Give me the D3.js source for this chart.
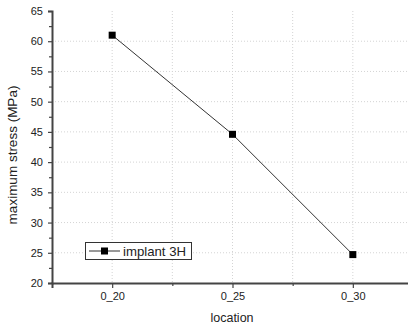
<!DOCTYPE html>
<html>
<head>
<meta charset="utf-8">
<script src="https://cdn.jsdelivr.net/npm/d3@7"></script>
<style>
  body { margin: 0; background: #fff; }
  svg { display: block; font-family: "Liberation Sans", Arial, sans-serif; }
</style>
</head>
<body>
<svg id="canvas" width="408" height="327"></svg>
<script>
// chart data
const locations = ["0_20", "0_25", "0_30"];
const stress = [61.0, 44.6, 24.7];
const yTicks = [20, 25, 30, 35, 40, 45, 50, 55, 60, 65];
const seriesName = "implant 3H";

const svg = d3.select('#canvas');
const plotLeft = 52, plotRight = 413, plotTop = 11, plotBottom = 283;

// x uses index positions so minor ticks can sit between categories
let x = d3.scaleLinear().domain([0.5, 3.5]).range([plotLeft, plotRight]);
let y = d3.scaleLinear().domain([20, 65]).range([plotBottom, plotTop]);

// grid lines, dotted
let grid = svg.append('g').attr('stroke', '#d4d4d4').attr('stroke-dasharray', '1,2');
grid.selectAll('line.h')
    .data(yTicks.filter(d => d > 20 && d < 65))
    .join('line')
    .attr('class', 'h')
    .attr('x1', plotLeft).attr('x2', 408)
    .attr('y1', d => y(d)).attr('y2', d => y(d));
grid.selectAll('line.v')
    .data([1, 1.5, 2, 2.5, 3])
    .join('line')
    .attr('class', 'v')
    .attr('x1', d => x(d)).attr('x2', d => x(d))
    .attr('y1', plotTop).attr('y2', plotBottom);

// y axis
svg.append('g')
    .attr('transform', `translate(${plotLeft},0)`)
    .call(d3.axisLeft(y).tickValues(yTicks).tickSize(4).tickPadding(5));
svg.append('g')
    .attr('transform', `translate(${plotLeft},0)`)
    .call(d3.axisLeft(y).tickValues(d3.range(22.5, 65, 5)).tickSize(3).tickFormat(''))
    .select('.domain').remove();

// x axis
svg.append('g')
    .attr('transform', `translate(0,${plotBottom})`)
    .call(d3.axisBottom(x).tickValues([1, 2, 3]).tickSize(5).tickPadding(4)
          .tickFormat((d, i) => locations[i]));
svg.append('g')
    .attr('transform', `translate(0,${plotBottom})`)
    .call(d3.axisBottom(x).tickValues([1.5, 2.5]).tickSize(3).tickFormat(''))
    .select('.domain').remove();

svg.selectAll('.domain').attr('stroke', '#444').attr('stroke-width', 2);
svg.selectAll('.tick line').attr('stroke', '#444').attr('stroke-width', 1.2);
svg.selectAll('.tick text').attr('font-size', 11).attr('fill', '#222')
    .attr('font-family', '"Liberation Sans", Arial, sans-serif');

// axis titles
svg.append('text')
    .attr('x', 232).attr('y', 322)
    .attr('text-anchor', 'middle').attr('font-size', 12.5).attr('fill', '#222')
    .text('location');
svg.append('text')
    .attr('transform', 'translate(17,155) rotate(-90)')
    .attr('text-anchor', 'middle').attr('font-size', 13.5).attr('fill', '#222')
    .text('maximum stress (MPa)');

// series line + markers
let pts = stress.map((v, i) => [x(i + 1), y(v)]);
svg.append('path')
    .attr('d', d3.line()(pts))
    .attr('fill', 'none').attr('stroke', '#333').attr('stroke-width', 1);
svg.selectAll('rect.pt')
    .data(stress)
    .join('rect')
    .attr('class', 'pt')
    .attr('x', (d, i) => x(i + 1) - 3.5)
    .attr('y', d => y(d) - 3.5)
    .attr('width', 7).attr('height', 7)
    .attr('fill', '#000');

// legend
let lg = svg.append('g').attr('transform', 'translate(85,242)');
lg.append('rect')
    .attr('x', 0.5).attr('y', 0.5).attr('width', 106).attr('height', 17)
    .attr('fill', '#fff').attr('stroke', '#333');
lg.append('line')
    .attr('x1', 4).attr('x2', 35).attr('y1', 9).attr('y2', 9)
    .attr('stroke', '#333');
lg.append('rect')
    .attr('x', 16).attr('y', 5.5).attr('width', 7).attr('height', 7).attr('fill', '#000');
lg.append('text')
    .attr('x', 38).attr('y', 13.5).attr('font-size', 13.2).attr('fill', '#222')
    .text(seriesName);
</script>
</body>
</html>
